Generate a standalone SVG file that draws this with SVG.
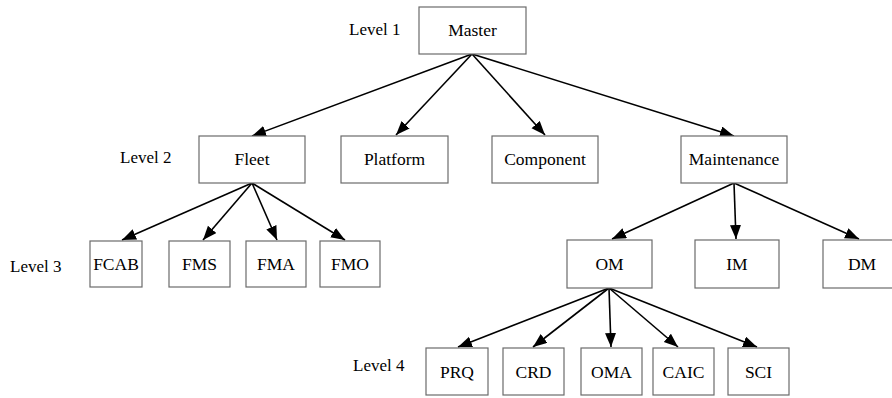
<svg xmlns="http://www.w3.org/2000/svg" width="892" height="398" viewBox="0 0 892 398">
<style>
.box{fill:#fff;stroke:#6b6b6b;stroke-width:1.2}
.t{font-family:"Liberation Serif","Times New Roman",serif;font-size:17.5px;fill:#000;text-anchor:middle}
.lbl{font-family:"Liberation Serif","Times New Roman",serif;font-size:17px;fill:#000}
.c{stroke:#000;stroke-width:1.6;fill:none;marker-end:url(#ah)}
</style>
<defs>
<marker id="ah" markerUnits="userSpaceOnUse" markerWidth="15" markerHeight="12" refX="14" refY="5.5" orient="auto">
<path d="M0,0 L14,5.5 L0,11 Z" fill="#000"/>
</marker>
</defs>
<rect width="892" height="398" fill="#fff"/>
<g id="labels">
<text class="lbl" x="349" y="35">Level 1</text>
<text class="lbl" x="120" y="163">Level 2</text>
<text class="lbl" x="10" y="272">Level 3</text>
<text class="lbl" x="353" y="371">Level 4</text>
</g>
<g id="connectors">
<path class="c" d="M472,54 L252,136"/>
<path class="c" d="M472,54 L396,135"/>
<path class="c" d="M472,54 L545,135"/>
<path class="c" d="M472,54 L734,136"/>
<path class="c" d="M252,183 L122,240"/>
<path class="c" d="M252,183 L203,240"/>
<path class="c" d="M252,183 L277,240"/>
<path class="c" d="M252,183 L345,240"/>
<path class="c" d="M734,183 L612,239"/>
<path class="c" d="M734,183 L736,239"/>
<path class="c" d="M734,183 L859,239"/>
<path class="c" d="M609,288 L458,347"/>
<path class="c" d="M609,288 L533,347"/>
<path class="c" d="M609,288 L611,347"/>
<path class="c" d="M609,288 L678,347"/>
<path class="c" d="M609,288 L757,347"/>
</g>
<g id="master"><rect class="box" x="419" y="7" width="107" height="47"/><text class="t" x="472.5" y="36">Master</text></g>
<g id="fleet"><rect class="box" x="199" y="136" width="106" height="47"/><text class="t" x="252" y="165">Fleet</text></g>
<g id="platform"><rect class="box" x="341" y="136" width="107" height="47"/><text class="t" x="394.5" y="165">Platform</text></g>
<g id="component"><rect class="box" x="492" y="136" width="106" height="47"/><text class="t" x="545" y="165">Component</text></g>
<g id="maintenance"><rect class="box" x="681" y="136" width="106" height="47"/><text class="t" x="734" y="165">Maintenance</text></g>
<g id="fcab"><rect class="box" x="90" y="241" width="52" height="46"/><text class="t" x="116" y="270">FCAB</text></g>
<g id="fms"><rect class="box" x="169" y="241" width="61" height="46"/><text class="t" x="199.5" y="270">FMS</text></g>
<g id="fma"><rect class="box" x="246" y="241" width="60" height="46"/><text class="t" x="276" y="270">FMA</text></g>
<g id="fmo"><rect class="box" x="320" y="241" width="60" height="46"/><text class="t" x="350" y="270">FMO</text></g>
<g id="om"><rect class="box" x="567" y="240" width="85" height="48"/><text class="t" x="609.5" y="270">OM</text></g>
<g id="im"><rect class="box" x="695" y="240" width="84" height="48"/><text class="t" x="737" y="270">IM</text></g>
<g id="dm"><rect class="box" x="823" y="240" width="80" height="48"/><text class="t" x="862" y="270">DM</text></g>
<g id="prq"><rect class="box" x="426" y="348" width="62" height="47"/><text class="t" x="457" y="378">PRQ</text></g>
<g id="crd"><rect class="box" x="503" y="348" width="61" height="47"/><text class="t" x="533.5" y="378">CRD</text></g>
<g id="oma"><rect class="box" x="581" y="348" width="61" height="47"/><text class="t" x="611.5" y="378">OMA</text></g>
<g id="caic"><rect class="box" x="653" y="348" width="61" height="47"/><text class="t" x="683.5" y="378">CAIC</text></g>
<g id="sci"><rect class="box" x="728" y="348" width="61" height="47"/><text class="t" x="758.5" y="378">SCI</text></g>
</svg>
